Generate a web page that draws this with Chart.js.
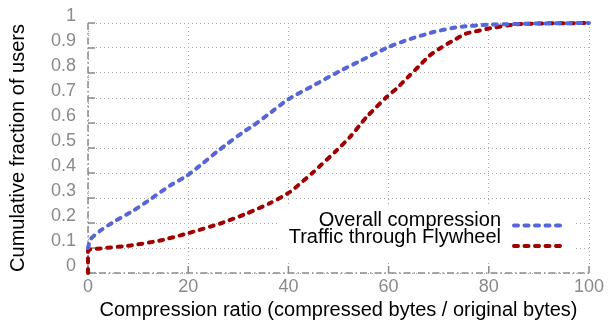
<!DOCTYPE html>
<html>
<head>
<meta charset="utf-8">
<script src="https://cdn.jsdelivr.net/npm/chart.js@4/dist/chart.umd.min.js"></script>
<style>
  html, body { margin: 0; padding: 0; background: #fff; }
  #wrap { width: 611px; height: 320px; }
</style>
</head>
<body>
<div id="wrap"><canvas id="cdf" width="611" height="320"></canvas></div>
<script>
// values
const overallX = [0, 0.5, 2.5, 5.1, 9.1, 12.8, 16.4, 19.8, 23, 25.7, 28, 31, 33, 35.7, 40, 45, 50, 54, 60, 64, 69, 74, 80, 90, 100];
const overallY = [0.1, 0.135, 0.17, 0.204, 0.25, 0.30, 0.35, 0.39, 0.44, 0.485, 0.52, 0.564, 0.59, 0.63, 0.695, 0.75, 0.805, 0.845, 0.904, 0.934, 0.964, 0.984, 0.993, 0.998, 1];
const flywheelX = [0, 0, 2.5, 8.5, 14.4, 19.8, 26.4, 31.7, 36.4, 40.3, 45, 49.6, 52.3, 55.6, 59.6, 61.6, 64.2, 65.9, 68.2, 70.2, 72.9, 75.5, 78.2, 80, 85.5, 90, 100];
const flywheelY = [0, 0.09, 0.098, 0.11, 0.13, 0.158, 0.198, 0.238, 0.28, 0.324, 0.404, 0.49, 0.544, 0.624, 0.704, 0.738, 0.79, 0.824, 0.87, 0.898, 0.93, 0.958, 0.97, 0.978, 0.995, 0.998, 1];
const seriesLabels = ['Overall compression', 'Traffic through Flywheel'];
const xTitle = 'Compression ratio (compressed bytes / original bytes)';
const yTitle = 'Cumulative fraction of users';

const toPoints = (xs, ys) => xs.map((x, i) => ({ x: x, y: ys[i] }));
const FONT = 'Liberation Sans, Arial, Helvetica, sans-serif';
const GRAY = '#8a8a8a';

// dash-dot axis lines with inward tick marks, and the boxed legend
const axisDecor = {
    id: 'axisDecor',
    beforeDatasetsDraw(chart) {
        const { ctx, chartArea: a, scales: { x, y } } = chart;
        ctx.save();
        ctx.strokeStyle = GRAY;
        ctx.lineWidth = 1.5;
        ctx.setLineDash([7, 3, 1.5, 3]);
        ctx.beginPath();
        ctx.moveTo(a.left, a.top);
        ctx.lineTo(a.left, a.bottom);
        ctx.lineTo(a.right, a.bottom);
        ctx.stroke();
        ctx.setLineDash([]);
        ctx.beginPath();
        y.ticks.forEach(t => {
            const py = y.getPixelForValue(t.value);
            ctx.moveTo(a.left, py);
            ctx.lineTo(a.left + 7, py);
        });
        x.ticks.forEach(t => {
            const px = x.getPixelForValue(t.value);
            ctx.moveTo(px, a.bottom);
            ctx.lineTo(px, a.bottom - 7);
        });
        ctx.stroke();
        ctx.restore();
    },
    afterDraw(chart) {
        const { ctx } = chart;
        ctx.save();
        ctx.fillStyle = '#fff';
        ctx.fillRect(278, 205, 298, 57);
        ctx.font = '20px ' + FONT;
        ctx.textAlign = 'right';
        ctx.textBaseline = 'alphabetic';
        chart.data.datasets.forEach((ds, i) => {
            ctx.fillStyle = '#000';
            ctx.fillText(ds.label, 501, 225.5 + i * 17.8);
            const cy = 225.5 + i * 20.5;
            ctx.strokeStyle = ds.borderColor;
            ctx.lineWidth = ds.borderWidth;
            ctx.lineCap = 'round';
            ctx.setLineDash(ds.borderDash);
            ctx.beginPath();
            ctx.moveTo(514, cy);
            ctx.lineTo(562, cy);
            ctx.stroke();
        });
        ctx.restore();
    }
};

const chart = new Chart(document.getElementById('cdf'), {
    type: 'line',
    data: {
        datasets: [
            {
                label: seriesLabels[0],
                data: toPoints(overallX, overallY),
                borderColor: '#5666d8',
                borderWidth: 4,
                borderDash: [4, 6.5],
                borderCapStyle: 'round',
                pointRadius: 0,
                tension: 0.2,
                clip: false
            },
            {
                label: seriesLabels[1],
                data: toPoints(flywheelX, flywheelY),
                borderColor: '#a00000',
                borderWidth: 4,
                borderDash: [4, 6.5],
                borderCapStyle: 'round',
                pointRadius: 0,
                tension: 0.2,
                clip: false
            }
        ]
    },
    options: {
        responsive: false,
        animation: false,
        layout: { padding: { top: 23, right: 22, left: 0, bottom: 0 } },
        plugins: {
            legend: { display: false },
            tooltip: { enabled: false }
        },
        scales: {
            x: {
                type: 'linear',
                min: 0,
                max: 100,
                afterFit(scale) { scale.height = 47; },
                ticks: { stepSize: 20, color: GRAY, padding: 3, autoSkip: false, font: { family: FONT, size: 18 } },
                grid: { color: '#a8a8a8', lineWidth: 1, drawTicks: false },
                border: { display: false, dash: [1, 3] },
                title: { display: true, text: xTitle, color: '#000', padding: { top: 0, bottom: -2 }, font: { family: FONT, size: 20 } }
            },
            y: {
                min: 0,
                max: 1,
                afterFit(scale) { scale.width = 88; },
                ticks: {
                    stepSize: 0.1, color: GRAY, padding: 12, labelOffset: -6.5, autoSkip: false,
                    font: { family: FONT, size: 18 },
                    callback: v => String(Number(v.toFixed(1)))
                },
                grid: { color: '#a8a8a8', lineWidth: 1, drawTicks: false },
                border: { display: false, dash: [1, 3] },
                title: { display: true, text: yTitle, color: '#000', padding: { top: 6, bottom: 0 }, font: { family: FONT, size: 20 } }
            }
        }
    },
    plugins: [axisDecor]
});
</script>
</body>
</html>
